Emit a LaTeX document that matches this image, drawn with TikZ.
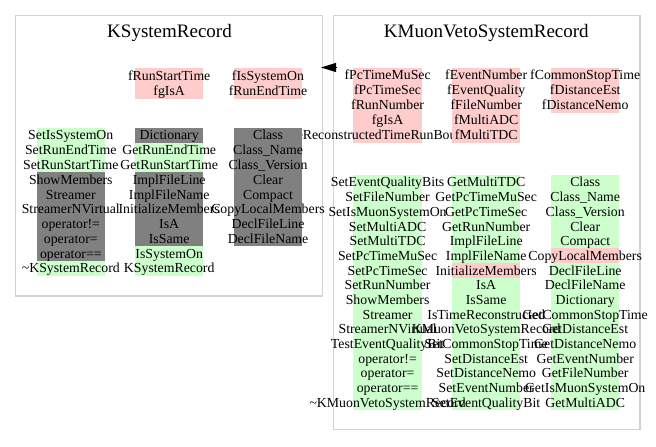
\documentclass[tikz,border=0pt]{standalone}
\usepackage{fontspec}
\setmainfont{Liberation Serif}
\usetikzlibrary{arrows.meta}
\definecolor{cp}{HTML}{FFCCCC}
\definecolor{cg}{HTML}{CCFFCC}
\definecolor{ck}{HTML}{808080}
\definecolor{cframe}{HTML}{D3D3D3}
\tikzset{
 cellbg/.style={draw=none, minimum width=68.3pt, inner sep=0pt, outer sep=0pt},
 celltxt/.style={font=\fontsize{13.8}{14}\selectfont, inner sep=0pt, anchor=base},
 clusterframe/.style={draw=cframe, line width=1.2pt},
 clustertitle/.style={font=\fontsize{19}{21}\selectfont, inner sep=0pt, anchor=base},
}
\newcommand\colfill[5]{\foreach \c/\t [count=\i] in #5 {\node[cellbg, fill=\c, minimum height=#4pt+0.4pt] (#1-\i) at (#2,{#3+(\i-0.5)*#4}) {};}}
\newcommand\coltext[5]{\foreach \c/\t [count=\i] in #5 {\node[celltxt] (#1-t\i) at (#2,{#3+(\i-0.5)*#4+4.6}) {\t};}}
\def\colLA{cp/fRunStartTime,cp/fgIsA}
\def\colLB{cp/fIsSystemOn,cp/fRunEndTime}
\def\colLC{cg/SetIsSystemOn,cg/SetRunEndTime,cg/SetRunStartTime,ck/ShowMembers,ck/Streamer,ck/StreamerNVirtual,ck/operator!=,ck/operator=,ck/operator==,cg/\textasciitilde KSystemRecord}
\def\colLD{ck/Dictionary,cg/GetRunEndTime,cg/GetRunStartTime,ck/ImplFileLine,ck/ImplFileName,ck/InitializeMembers,ck/IsA,ck/IsSame,cg/IsSystemOn,cg/KSystemRecord}
\def\colLE{ck/Class,ck/Class\_Name,ck/Class\_Version,ck/Clear,ck/Compact,ck/CopyLocalMembers,ck/DeclFileLine,ck/DeclFileName}
\def\colRA{cp/fPcTimeMuSec,cp/fPcTimeSec,cp/fRunNumber,cp/fgIsA,cp/fIsTimeReconstructedTimeRunBoundaryOnly}
\def\colRB{cp/fEventNumber,cp/fEventQuality,cp/fFileNumber,cp/fMultiADC,cp/fMultiTDC}
\def\colRC{cp/fCommonStopTime,cp/fDistanceEst,cp/fDistanceNemo}
\def\colRD{cg/SetEventQualityBits,cg/SetFileNumber,cg/SetIsMuonSystemOn,cg/SetMultiADC,cg/SetMultiTDC,cg/SetPcTimeMuSec,cg/SetPcTimeSec,cg/SetRunNumber,cg/ShowMembers,cg/Streamer,cg/StreamerNVirtual,cg/TestEventQualityBit,cg/operator!=,cg/operator=,cg/operator==,cg/\textasciitilde KMuonVetoSystemRecord}
\def\colRE{cg/GetMultiTDC,cg/GetPcTimeMuSec,cg/GetPcTimeSec,cg/GetRunNumber,cg/ImplFileLine,cg/ImplFileName,cp/InitializeMembers,cg/IsA,cg/IsSame,cg/IsTimeReconstructed,cg/KMuonVetoSystemRecord,cg/SetCommonStopTime,cg/SetDistanceEst,cg/SetDistanceNemo,cg/SetEventNumber,cg/SetEventQualityBit}
\def\colRF{cg/Class,cg/Class\_Name,cg/Class\_Version,cg/Clear,cg/Compact,cp/CopyLocalMembers,cg/DeclFileLine,cg/DeclFileName,cg/Dictionary,cg/GetCommonStopTime,cg/GetDistanceEst,cg/GetDistanceNemo,cg/GetEventNumber,cg/GetFileNumber,cg/GetIsMuonSystemOn,cg/GetMultiADC}
\begin{document}
\begin{tikzpicture}[x=1pt,y=-1pt]
\useasboundingbox (0,0) rectangle (656,447);
\draw[clusterframe] (15.7,15.3) rectangle (322.7,296);
\draw[clusterframe] (333.5,15.3) rectangle (640,429.5);
\node[clustertitle] (t1) at (169.5,37.7) {KSystemRecord};
\node[clustertitle] (t2) at (486.3,37.7) {KMuonVetoSystemRecord};
% member block drawn first (its long text runs under the left gray block)
\colfill{RA}{387.6}{67.7}{15}{\colRA}
\begin{scope}
\clip (302.3,50) rectangle (656,160);
\coltext{RA}{387.6}{67.7}{15}{\colRA}
\end{scope}
% fills
\colfill{LA}{169.2}{67.7}{15.5}{\colLA}
\colfill{LB}{268}{67.7}{15.5}{\colLB}
\colfill{LC}{70.8}{128}{14.77}{\colLC}
\colfill{LD}{169.2}{128}{14.77}{\colLD}
\colfill{LE}{268}{128}{14.77}{\colLE}
\colfill{RB}{486.2}{67.7}{15}{\colRB}
\colfill{RC}{585.2}{67.7}{15}{\colRC}
\colfill{RD}{387.6}{175}{14.69}{\colRD}
\colfill{RE}{486.2}{175}{14.69}{\colRE}
\colfill{RF}{585.2}{175}{14.69}{\colRF}
% texts
\coltext{LA}{169.2}{67.7}{15.5}{\colLA}
\coltext{LB}{268}{67.7}{15.5}{\colLB}
\coltext{LC}{70.8}{128}{14.77}{\colLC}
\coltext{LD}{169.2}{128}{14.77}{\colLD}
\coltext{LE}{268}{128}{14.77}{\colLE}
\coltext{RB}{486.2}{67.7}{15}{\colRB}
\coltext{RC}{585.2}{67.7}{15}{\colRC}
\coltext{RD}{387.6}{175}{14.69}{\colRD}
\coltext{RE}{486.2}{175}{14.69}{\colRE}
\coltext{RF}{585.2}{175}{14.69}{\colRF}
% inheritance arrow
\coordinate (ab) at (336,67.5);
\coordinate (at) at (321,67.5);
\draw[-{Triangle[length=15pt,width=9pt]}, line width=0.8pt] (ab) -- (at);
\end{tikzpicture}
\end{document}
